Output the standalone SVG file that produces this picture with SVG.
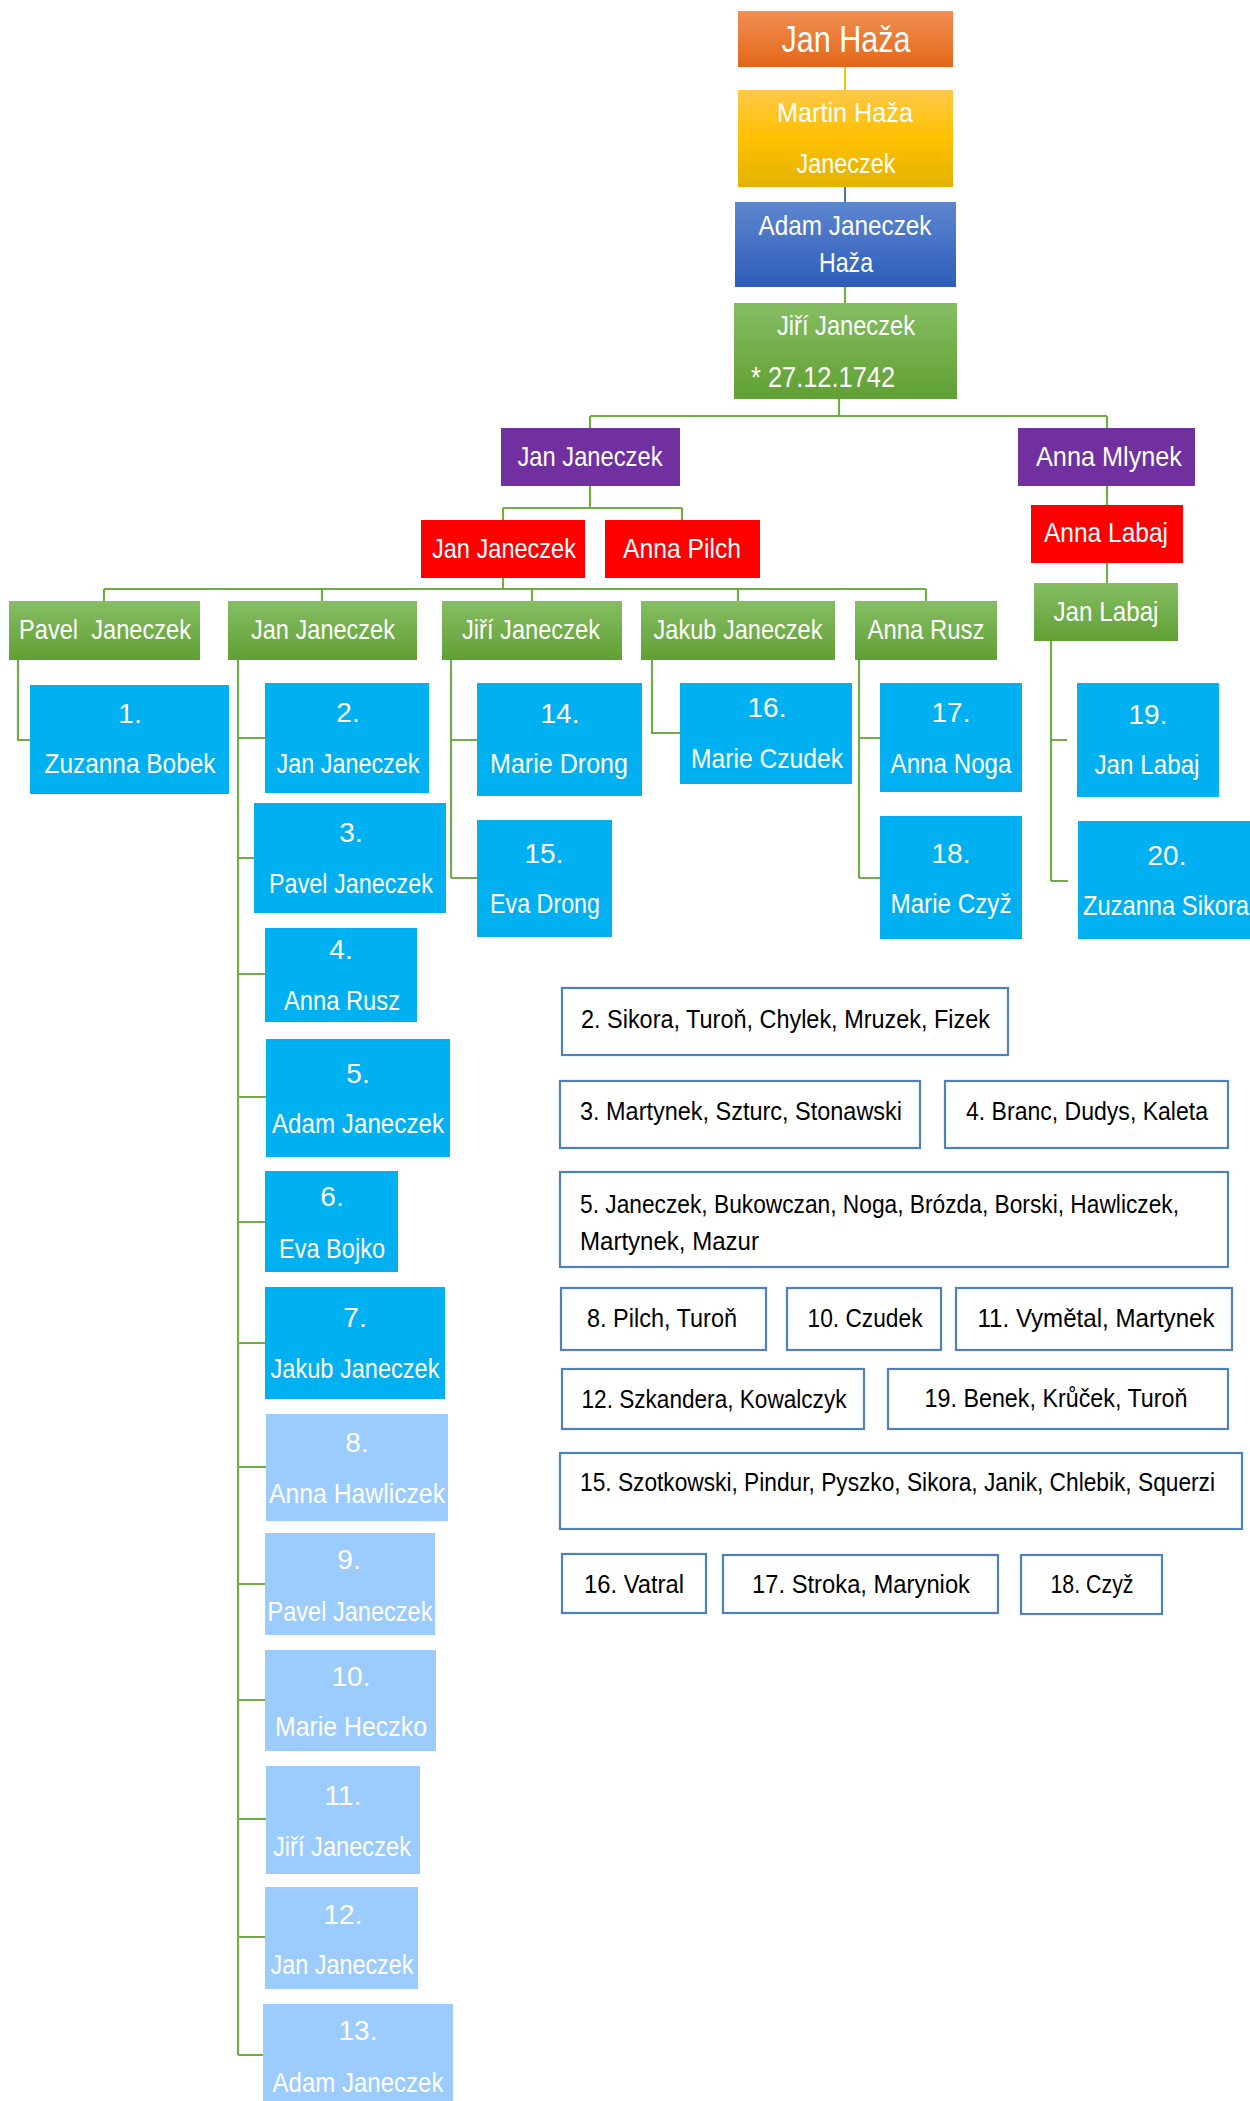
<svg xmlns="http://www.w3.org/2000/svg" width="1250" height="2101" viewBox="0 0 1250 2101">
<defs>
<linearGradient id="gGreen" x1="0" y1="0" x2="0" y2="1"><stop offset="0" stop-color="#86BD64"/><stop offset="1" stop-color="#60A033"/></linearGradient>
<linearGradient id="gOrange" x1="0" y1="0" x2="0" y2="1"><stop offset="0" stop-color="#F28E52"/><stop offset="1" stop-color="#E3671A"/></linearGradient>
<linearGradient id="gYellow" x1="0" y1="0" x2="0" y2="1"><stop offset="0" stop-color="#FFC848"/><stop offset="0.5" stop-color="#FFC000"/><stop offset="1" stop-color="#E2B200"/></linearGradient>
<linearGradient id="gBlue" x1="0" y1="0" x2="0" y2="1"><stop offset="0" stop-color="#5E86D0"/><stop offset="1" stop-color="#2D5DBA"/></linearGradient>
</defs>
<style>
text{font-family:"Liberation Sans",Arial,sans-serif;}
.w{fill:#FFFFFF;font-size:28px;text-anchor:middle;}
.k{fill:#000000;font-size:26px;}
.kc{fill:#000000;font-size:26px;text-anchor:middle;}
.grn{fill:url(#gGreen);}
.blu{fill:#00B0F0;}
.lb{fill:#9CCBFE;}
.pur{fill:#7030A0;}
.red{fill:#FF0000;}
.leg{fill:#FFFFFF;stroke:#4F81BD;stroke-width:2.2;}
.c{fill:none;stroke:#70AD47;stroke-width:2.2;}
</style>

<g id="connectors">
<path d="M845,67 V90" fill="none" stroke="#FFC000" stroke-width="2"/>
<path d="M845,187 V202" fill="none" stroke="#4472C4" stroke-width="2"/>
<path class="c" d="M845,287 V303"/>
<path class="c" d="M839,399 V416 M590,416 H1107 M590,416 V428 M1107,416 V428"/>
<path class="c" d="M590,486 V508 M503,508 H682 M503,508 V520 M682,508 V520"/>
<path class="c" d="M1107,486 V505 M1107,563 V583"/>
<path class="c" d="M503,578 V589 M104,589 H926 M104,589 V601 M322,589 V601 M532,589 V601 M738,589 V601 M926,589 V601"/>
<path class="c" d="M18,660 V740 H30"/>
<path class="c" d="M238,660 V2055 M238,738 H265 M238,858 H254 M238,974 H265 M238,1097 H266 M238,1222 H265 M238,1343 H265 M238,1467 H266 M238,1584 H265 M238,1700 H265 M238,1819 H266 M238,1937 H265 M238,2055 H263"/>
<path class="c" d="M451,660 V878 M451,740 H477 M451,878 H477"/>
<path class="c" d="M652,660 V733 H680"/>
<path class="c" d="M859,660 V878 M859,738 H880 M859,878 H880"/>
<path class="c" d="M1051,641 V881 M1051,740 H1067 M1051,881 H1068"/>
</g>

<g id="n-jan-haza"><rect x="738" y="11" width="215" height="56" fill="url(#gOrange)"/><text class="w" x="846" y="52" style="font-size:37px" textLength="129" lengthAdjust="spacingAndGlyphs">Jan Haža</text></g>
<g id="n-martin-haza"><rect x="738" y="90" width="215" height="97" fill="url(#gYellow)"/><text class="w" x="845" y="122" textLength="136" lengthAdjust="spacingAndGlyphs">Martin Haža</text><text class="w" x="846" y="173" textLength="99" lengthAdjust="spacingAndGlyphs">Janeczek</text></g>
<g id="n-adam-janeczek-haza"><rect x="735" y="202" width="221" height="85" fill="url(#gBlue)"/><text class="w" x="845" y="235" textLength="173" lengthAdjust="spacingAndGlyphs">Adam Janeczek</text><text class="w" x="846" y="272" textLength="54" lengthAdjust="spacingAndGlyphs">Haža</text></g>
<g id="n-jiri-1742"><rect x="734" y="303" width="223" height="96" class="grn"/><text class="w" x="846" y="335" textLength="138" lengthAdjust="spacingAndGlyphs">Jiří Janeczek</text><text class="w" x="751" y="387" style="text-anchor:start;font-size:30px" textLength="144" lengthAdjust="spacingAndGlyphs">* 27.12.1742</text></g>

<g id="n-jan-janeczek-p"><rect x="501" y="428" width="179" height="58" class="pur"/><text class="w" x="590" y="466" textLength="145" lengthAdjust="spacingAndGlyphs">Jan Janeczek</text></g>
<g id="n-anna-mlynek"><rect x="1018" y="428" width="177" height="58" class="pur"/><text class="w" x="1109" y="466" textLength="146" lengthAdjust="spacingAndGlyphs">Anna Mlynek</text></g>
<g id="n-jan-janeczek-r"><rect x="421" y="520" width="164" height="58" class="red"/><text class="w" x="504" y="558" textLength="144" lengthAdjust="spacingAndGlyphs">Jan Janeczek</text></g>
<g id="n-anna-pilch"><rect x="605" y="520" width="155" height="58" class="red"/><text class="w" x="682" y="558" textLength="118" lengthAdjust="spacingAndGlyphs">Anna Pilch</text></g>
<g id="n-anna-labaj"><rect x="1031" y="505" width="152" height="58" class="red"/><text class="w" x="1106" y="542" textLength="124" lengthAdjust="spacingAndGlyphs">Anna Labaj</text></g>
<g id="n-jan-labaj"><rect x="1034" y="583" width="144" height="58" class="grn"/><text class="w" x="1106" y="621" textLength="105" lengthAdjust="spacingAndGlyphs">Jan Labaj</text></g>

<g id="n-pavel-janeczek"><rect x="9" y="601" width="191" height="59" class="grn"/><text class="w" x="105" y="639" textLength="172" lengthAdjust="spacingAndGlyphs" xml:space="preserve">Pavel  Janeczek</text></g>
<g id="n-jan-janeczek-g"><rect x="228" y="601" width="189" height="59" class="grn"/><text class="w" x="323" y="639" textLength="144" lengthAdjust="spacingAndGlyphs">Jan Janeczek</text></g>
<g id="n-jiri-janeczek-g"><rect x="442" y="601" width="180" height="59" class="grn"/><text class="w" x="531" y="639" textLength="138" lengthAdjust="spacingAndGlyphs">Jiří Janeczek</text></g>
<g id="n-jakub-janeczek"><rect x="641" y="601" width="194" height="59" class="grn"/><text class="w" x="738" y="639" textLength="169" lengthAdjust="spacingAndGlyphs">Jakub Janeczek</text></g>
<g id="n-anna-rusz"><rect x="855" y="601" width="142" height="59" class="grn"/><text class="w" x="926" y="639" textLength="117" lengthAdjust="spacingAndGlyphs">Anna Rusz</text></g>

<g id="n1"><rect x="30" y="685" width="199" height="109" class="blu"/><text class="w" x="130" y="723">1.</text><text class="w" x="130" y="773" textLength="171" lengthAdjust="spacingAndGlyphs">Zuzanna Bobek</text></g>
<g id="n2"><rect x="265" y="683" width="164" height="110" class="blu"/><text class="w" x="348" y="722">2.</text><text class="w" x="348" y="773" textLength="143" lengthAdjust="spacingAndGlyphs">Jan Janeczek</text></g>
<g id="n3"><rect x="254" y="803" width="192" height="110" class="blu"/><text class="w" x="351" y="842">3.</text><text class="w" x="351" y="893" textLength="164" lengthAdjust="spacingAndGlyphs">Pavel Janeczek</text></g>
<g id="n4"><rect x="265" y="928" width="152" height="94" class="blu"/><text class="w" x="341" y="959">4.</text><text class="w" x="342" y="1010" textLength="116" lengthAdjust="spacingAndGlyphs">Anna Rusz</text></g>
<g id="n5"><rect x="266" y="1039" width="184" height="118" class="blu"/><text class="w" x="358" y="1083">5.</text><text class="w" x="358" y="1133" textLength="172" lengthAdjust="spacingAndGlyphs">Adam Janeczek</text></g>
<g id="n6"><rect x="265" y="1171" width="133" height="101" class="blu"/><text class="w" x="332" y="1206">6.</text><text class="w" x="332" y="1258" textLength="106" lengthAdjust="spacingAndGlyphs">Eva Bojko</text></g>
<g id="n7"><rect x="265" y="1287" width="180" height="112" class="blu"/><text class="w" x="355" y="1327">7.</text><text class="w" x="355" y="1378" textLength="169" lengthAdjust="spacingAndGlyphs">Jakub Janeczek</text></g>
<g id="n8"><rect x="266" y="1414" width="182" height="107" class="lb"/><text class="w" x="357" y="1452">8.</text><text class="w" x="357" y="1503" textLength="176" lengthAdjust="spacingAndGlyphs">Anna Hawliczek</text></g>
<g id="n9"><rect x="265" y="1533" width="170" height="102" class="lb"/><text class="w" x="349" y="1569">9.</text><text class="w" x="350" y="1621" textLength="165" lengthAdjust="spacingAndGlyphs">Pavel Janeczek</text></g>
<g id="n10"><rect x="265" y="1650" width="171" height="101" class="lb"/><text class="w" x="351" y="1686">10.</text><text class="w" x="351" y="1736" textLength="152" lengthAdjust="spacingAndGlyphs">Marie Heczko</text></g>
<g id="n11"><rect x="266" y="1766" width="154" height="108" class="lb"/><text class="w" x="343" y="1805">11.</text><text class="w" x="342" y="1856" textLength="138" lengthAdjust="spacingAndGlyphs">Jiří Janeczek</text></g>
<g id="n12"><rect x="265" y="1887" width="153" height="102" class="lb"/><text class="w" x="343" y="1924">12.</text><text class="w" x="342" y="1974" textLength="143" lengthAdjust="spacingAndGlyphs">Jan Janeczek</text></g>
<g id="n13"><rect x="263" y="2004" width="190" height="97" class="lb"/><text class="w" x="358" y="2040">13.</text><text class="w" x="358" y="2092" textLength="171" lengthAdjust="spacingAndGlyphs">Adam Janeczek</text></g>
<g id="n14"><rect x="477" y="683" width="165" height="113" class="blu"/><text class="w" x="560" y="723">14.</text><text class="w" x="559" y="773" textLength="138" lengthAdjust="spacingAndGlyphs">Marie Drong</text></g>
<g id="n15"><rect x="477" y="820" width="135" height="117" class="blu"/><text class="w" x="544" y="863">15.</text><text class="w" x="545" y="913" textLength="110" lengthAdjust="spacingAndGlyphs">Eva Drong</text></g>
<g id="n16"><rect x="680" y="683" width="172" height="101" class="blu"/><text class="w" x="767" y="717">16.</text><text class="w" x="767" y="768" textLength="152" lengthAdjust="spacingAndGlyphs">Marie Czudek</text></g>
<g id="n17"><rect x="880" y="683" width="142" height="109" class="blu"/><text class="w" x="951" y="722">17.</text><text class="w" x="951" y="773" textLength="121" lengthAdjust="spacingAndGlyphs">Anna Noga</text></g>
<g id="n18"><rect x="880" y="816" width="142" height="123" class="blu"/><text class="w" x="951" y="863">18.</text><text class="w" x="951" y="913" textLength="121" lengthAdjust="spacingAndGlyphs">Marie Czyž</text></g>
<g id="n19"><rect x="1077" y="683" width="142" height="114" class="blu"/><text class="w" x="1148" y="724">19.</text><text class="w" x="1147" y="774" textLength="105" lengthAdjust="spacingAndGlyphs">Jan Labaj</text></g>
<g id="n20"><rect x="1078" y="821" width="172" height="118" class="blu"/><text class="w" x="1167" y="865">20.</text><text class="w" x="1166" y="915" textLength="166" lengthAdjust="spacingAndGlyphs">Zuzanna Sikora</text></g>

<g id="legend">
<g id="l2"><rect x="562" y="988" width="446" height="67" class="leg"/><text class="k" x="581" y="1028" textLength="409" lengthAdjust="spacingAndGlyphs">2. Sikora, Turoň, Chylek, Mruzek, Fizek</text></g>
<g id="l3"><rect x="560" y="1081" width="360" height="67" class="leg"/><text class="k" x="580" y="1120" textLength="322" lengthAdjust="spacingAndGlyphs">3. Martynek, Szturc, Stonawski</text></g>
<g id="l4"><rect x="945" y="1081" width="283" height="67" class="leg"/><text class="k" x="966" y="1120" textLength="242" lengthAdjust="spacingAndGlyphs">4. Branc, Dudys, Kaleta</text></g>
<g id="l5"><rect x="560" y="1172" width="668" height="95" class="leg"/><text class="k" x="580" y="1213" textLength="599" lengthAdjust="spacingAndGlyphs">5. Janeczek, Bukowczan, Noga, Brózda, Borski, Hawliczek,</text><text class="k" x="580" y="1250" textLength="179" lengthAdjust="spacingAndGlyphs">Martynek, Mazur</text></g>
<g id="l8"><rect x="561" y="1288" width="205" height="62" class="leg"/><text class="kc" x="662" y="1327" textLength="150" lengthAdjust="spacingAndGlyphs">8. Pilch, Turoň</text></g>
<g id="l10"><rect x="787" y="1288" width="154" height="62" class="leg"/><text class="kc" x="865" y="1327" textLength="115" lengthAdjust="spacingAndGlyphs">10. Czudek</text></g>
<g id="l11"><rect x="956" y="1288" width="276" height="62" class="leg"/><text class="kc" x="1096" y="1327" textLength="237" lengthAdjust="spacingAndGlyphs">11. Vymětal, Martynek</text></g>
<g id="l12"><rect x="562" y="1369" width="302" height="60" class="leg"/><text class="kc" x="714" y="1408" textLength="265" lengthAdjust="spacingAndGlyphs">12. Szkandera, Kowalczyk</text></g>
<g id="l19"><rect x="888" y="1369" width="340" height="60" class="leg"/><text class="kc" x="1056" y="1407" textLength="263" lengthAdjust="spacingAndGlyphs">19. Benek, Krůček, Turoň</text></g>
<g id="l15"><rect x="560" y="1453" width="682" height="76" class="leg"/><text class="k" x="580" y="1491" textLength="635" lengthAdjust="spacingAndGlyphs">15. Szotkowski, Pindur, Pyszko, Sikora, Janik, Chlebik, Squerzi</text></g>
<g id="l16"><rect x="562" y="1554" width="144" height="59" class="leg"/><text class="kc" x="634" y="1593" textLength="100" lengthAdjust="spacingAndGlyphs">16. Vatral</text></g>
<g id="l17"><rect x="723" y="1555" width="275" height="58" class="leg"/><text class="kc" x="861" y="1593" textLength="218" lengthAdjust="spacingAndGlyphs">17. Stroka, Maryniok</text></g>
<g id="l18"><rect x="1021" y="1555" width="141" height="59" class="leg"/><text class="kc" x="1092" y="1593" textLength="83" lengthAdjust="spacingAndGlyphs">18. Czyž</text></g>
</g>
</svg>
